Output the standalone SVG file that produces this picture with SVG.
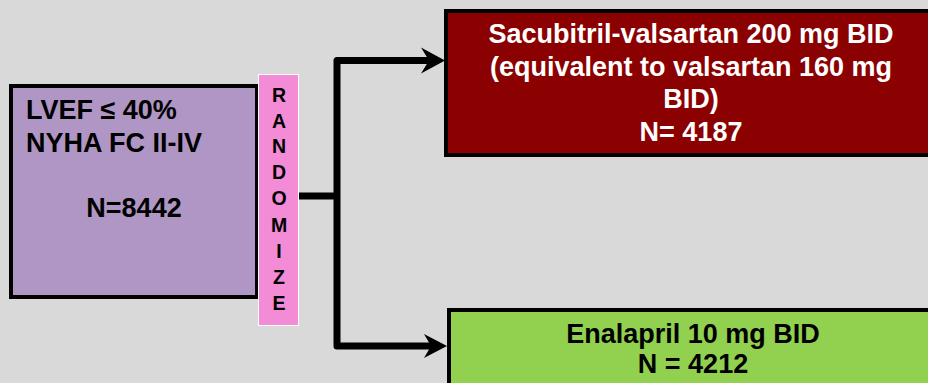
<svg xmlns="http://www.w3.org/2000/svg" width="928" height="383" viewBox="0 0 928 383">
  <style>
    .t { font-family: "Liberation Sans", Arial, sans-serif; font-weight: bold; }
    .box { stroke: #000; stroke-width: 4; }
    .wire { fill: none; stroke: #000; stroke-width: 7; stroke-linejoin: round; stroke-linecap: butt; }
    .head { fill: #000; }
  </style>
  <rect width="928" height="383" fill="#d9d9d9"/>

  <g id="connectors">
    <path class="wire" d="M299,196 H337"/>
    <path class="wire" d="M432,60.5 H337 V346 H434"/>
    <!-- arrowheads: tip, upper barb, notch, lower barb -->
    <path class="head" d="M445,60.5 L421,47.5 L429,60.5 L421,73.5 Z"/>
    <path class="head" d="M447,346 L424,334 L431,346 L424,358 Z"/>
  </g>

  <g id="population">
    <rect class="box" x="11" y="86" width="246" height="211" fill="#b096c4"/>
    <text class="t" x="26" y="119" font-size="27">LVEF ≤ 40%</text>
    <text class="t" x="26" y="152" font-size="27">NYHA FC II-IV</text>
    <text class="t" x="134" y="217" font-size="27" text-anchor="middle">N=8442</text>
  </g>

  <g id="randomize">
    <rect x="258.5" y="74.5" width="40" height="251" fill="#f48bd6" stroke="#ffffff" stroke-width="1"/>
    <g class="t" font-size="19.5" text-anchor="middle">
      <text x="279" y="102">R</text>
      <text x="279" y="128">A</text>
      <text x="279" y="153">N</text>
      <text x="279" y="179">D</text>
      <text x="279" y="205">O</text>
      <text x="279" y="232">M</text>
      <text x="279" y="258">I</text>
      <text x="279" y="284">Z</text>
      <text x="279" y="310">E</text>
    </g>
  </g>

  <g id="sacubitril">
    <rect class="box" x="446" y="11" width="490" height="144" fill="#8b0000"/>
    <g class="t" font-size="27" fill="#ffffff" text-anchor="middle">
      <text x="691" y="43">Sacubitril-valsartan 200 mg BID</text>
      <text x="691" y="75.5">(equivalent to valsartan 160 mg</text>
      <text x="691" y="108">BID)</text>
      <text x="691" y="141">N= 4187</text>
    </g>
  </g>

  <g id="enalapril">
    <rect class="box" x="449" y="310" width="490" height="90" fill="#92d050"/>
    <g class="t" font-size="27" fill="#000" text-anchor="middle">
      <text x="693" y="343">Enalapril 10 mg BID</text>
      <text x="693" y="373">N = 4212</text>
    </g>
  </g>
</svg>
